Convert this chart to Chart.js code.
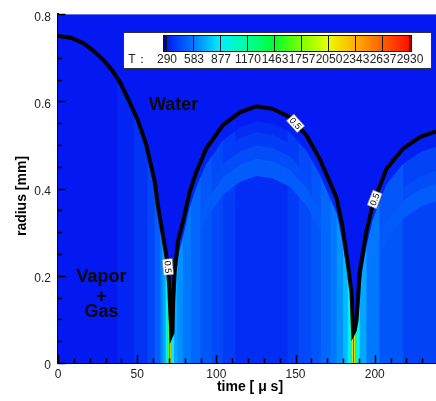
<!DOCTYPE html>
<html>
<head>
<meta charset="utf-8">
<script src="https://cdn.jsdelivr.net/npm/chart.js@4.4.0/dist/chart.umd.min.js"></script>
<style>
  html, body { margin: 0; padding: 0; background: #fff; }
  #wrap { width: 436px; height: 401px; }
</style>
</head>
<body>
<div id="wrap"><canvas id="bubbleChart" width="436" height="401"></canvas></div>
<script>
// Bubble wall (0.5 contour)
const timeUs = [0, 8, 15.8, 22, 28.4, 34, 39, 45, 50.3, 55.8, 58.7, 61.1, 63, 65, 67.2, 69.3, 70.3, 71.0, 71.6,
    72.3, 72.7, 73.7, 75.8, 79, 83.2, 87.4, 93.7, 104, 114.8, 125.3, 135.6, 146.4, 156.9, 165.4, 171, 176,
    179.5, 182.2, 184, 185.4, 186.4, 187.4, 188.5, 189.5, 190.6, 194.8, 198.8, 207.4, 217.7, 228.5, 238.7];
const radiusMm = [0.750, 0.746, 0.734, 0.717, 0.696, 0.672, 0.645, 0.600, 0.558, 0.500, 0.454, 0.416, 0.363, 0.320, 0.272, 0.226, 0.170, 0.110, 0.064,
    0.070, 0.140, 0.211, 0.280, 0.325, 0.393, 0.439, 0.492, 0.545, 0.575, 0.589, 0.583, 0.564, 0.522, 0.467, 0.420, 0.378,
    0.315, 0.250, 0.200, 0.159, 0.068, 0.075, 0.098, 0.150, 0.211, 0.302, 0.364, 0.445, 0.491, 0.518, 0.531];

// Temperature inside the bubble, vertical bands (start time, K)
const bandStart = [0, 37.5, 48, 56.5, 61, 64.5, 66, 68, 69.3, 69.9, 70.3, 70.9, 71.4, 71.9, 73.2, 75.5, 79, 84, 90, 97, 104, 112,
    145, 152, 160, 166, 172, 176, 180, 183, 184.8, 185.6, 186.2, 187, 187.6, 188.5, 190.5, 194.8, 203, 218];
const bandTemp = [290, 330, 375, 430, 500, 600, 700, 900, 1300, 2000, 2900, 2000, 1300, 900, 700, 640, 580, 530, 480, 440, 400, 355,
    400, 440, 480, 530, 580, 650, 750, 900, 1300, 2000, 2900, 2000, 1300, 900, 700, 580, 480, 420];

// Thermal layer under the wall after the first collapse (depth in mm, K)
const shellDepth = [0, 0.035, 0.06, 0.09, 0.12, 0.16];
const shellTemp = [295, 345, 400, 450, 495];
const shellWindows = [[75.5, 181.5], [190.5, 238.7]];

const tempLevels = [290, 583, 877, 1170, 1463, 1757, 2050, 2343, 2637, 2930];
const levelColors = ['#0418f2', '#0078ff', '#00f0ff', '#00ffa0', '#00ff30', '#80ff00', '#e8ff00', '#ffb000', '#ff6000', '#ff1000'];

const xTicks = [0, 50, 100, 150, 200];
const yTicks = [0, 0.2, 0.4, 0.6, 0.8];
const contourLevel = 0.5;
const labelTimes = [69.4, 150, 200];

const FONT = "'Liberation Sans', Arial, sans-serif";

function hexRgb(h) {
    return [parseInt(h.slice(1, 3), 16), parseInt(h.slice(3, 5), 16), parseInt(h.slice(5, 7), 16)];
}
const stopRgb = levelColors.map(hexRgb);

function tempColor(T) {
    if (T <= tempLevels[0]) return levelColors[0];
    for (let i = 1; i < tempLevels.length; i++) {
        if (T <= tempLevels[i]) {
            const f = (T - tempLevels[i - 1]) / (tempLevels[i] - tempLevels[i - 1]);
            const a = stopRgb[i - 1], b = stopRgb[i];
            return `rgb(${Math.round(a[0] + (b[0] - a[0]) * f)},${Math.round(a[1] + (b[1] - a[1]) * f)},${Math.round(a[2] + (b[2] - a[2]) * f)})`;
        }
    }
    return levelColors[levelColors.length - 1];
}

function radiusAt(t) {
    for (let i = 1; i < timeUs.length; i++) {
        if (t <= timeUs[i]) {
            const f = (t - timeUs[i - 1]) / (timeUs[i] - timeUs[i - 1]);
            return radiusMm[i - 1] + (radiusMm[i] - radiusMm[i - 1]) * f;
        }
    }
    return radiusMm[radiusMm.length - 1];
}

// Temperature field behind the curve
const heatPlugin = {
    id: 'heat',
    beforeDatasetsDraw(chart) {
        const { ctx, chartArea: a, scales: { x, y } } = chart;
        ctx.save();
        ctx.beginPath();
        ctx.rect(a.left, a.top, a.right - a.left, a.bottom - a.top);
        ctx.clip();
        ctx.fillStyle = tempColor(tempLevels[0]);
        ctx.fillRect(a.left, a.top, a.right - a.left, a.bottom - a.top);

        // clip to the bubble interior
        ctx.beginPath();
        ctx.moveTo(x.getPixelForValue(timeUs[0]), a.bottom);
        timeUs.forEach((t, i) => ctx.lineTo(x.getPixelForValue(t), y.getPixelForValue(radiusMm[i])));
        ctx.lineTo(x.getPixelForValue(timeUs[timeUs.length - 1]), a.bottom);
        ctx.closePath();
        ctx.clip();

        bandStart.forEach((t0, i) => {
            const t1 = i + 1 < bandStart.length ? bandStart[i + 1] : x.max;
            const x0 = x.getPixelForValue(t0), x1 = x.getPixelForValue(t1);
            ctx.fillStyle = tempColor(bandTemp[i]);
            ctx.fillRect(x0, a.top, x1 - x0 + 0.6, a.bottom - a.top);
        });

        shellWindows.forEach(([w0, w1]) => {
            ctx.save();
            const wx0 = x.getPixelForValue(w0), wx1 = x.getPixelForValue(w1);
            ctx.beginPath();
            ctx.rect(wx0, a.top, wx1 - wx0, a.bottom - a.top);
            ctx.clip();
            for (let s = 0; s < shellTemp.length; s++) {
                const d0 = shellDepth[s], d1 = shellDepth[s + 1];
                ctx.beginPath();
                timeUs.forEach((t, i) => {
                    const px = x.getPixelForValue(t), py = y.getPixelForValue(Math.max(0, radiusMm[i] - d0));
                    if (i === 0) ctx.moveTo(px, py); else ctx.lineTo(px, py);
                });
                for (let i = timeUs.length - 1; i >= 0; i--) {
                    ctx.lineTo(x.getPixelForValue(timeUs[i]), y.getPixelForValue(Math.max(0, radiusMm[i] - d1)));
                }
                ctx.closePath();
                ctx.globalCompositeOperation = s === 0 ? 'source-over' : 'lighten';
                ctx.globalAlpha = s === 0 ? 0.85 : 1;
                ctx.fillStyle = tempColor(shellTemp[s]);
                ctx.fill();
            }
            ctx.restore();
        });
        ctx.restore();
    }
};

// Labels, colour legend, inward ticks, axis titles
const overlayPlugin = {
    id: 'overlay',
    afterDraw(chart) {
        const { ctx, chartArea: a, scales: { x, y } } = chart;
        ctx.save();

        // contour labels on the wall line
        labelTimes.forEach(t => {
            const px = x.getPixelForValue(t), py = y.getPixelForValue(radiusAt(t));
            const ax = x.getPixelForValue(t - 0.8), ay = y.getPixelForValue(radiusAt(t - 0.8));
            const bx = x.getPixelForValue(t + 0.8), by = y.getPixelForValue(radiusAt(t + 0.8));
            let ang = Math.atan2(by - ay, bx - ax);
            if (ang > Math.PI / 2) ang -= Math.PI;
            if (ang < -Math.PI / 2) ang += Math.PI;
            ctx.save();
            ctx.translate(px, py);
            ctx.rotate(ang);
            ctx.fillStyle = '#fff';
            ctx.fillRect(-8, -5, 16, 10);
            ctx.strokeStyle = '#777';
            ctx.lineWidth = 0.6;
            ctx.strokeRect(-8, -5, 16, 10);
            ctx.fillStyle = '#000';
            ctx.font = `9px ${FONT}`;
            ctx.textAlign = 'center';
            ctx.textBaseline = 'middle';
            ctx.fillText(String(contourLevel), 0, 0.5);
            ctx.restore();
        });

        // region names
        ctx.fillStyle = '#0a0a0a';
        ctx.font = `bold 18px ${FONT}`;
        ctx.textAlign = 'center';
        ctx.textBaseline = 'middle';
        ctx.fillText('Water', x.getPixelForValue(73), y.getPixelForValue(0.591));
        ctx.fillText('Vapor', x.getPixelForValue(27.5), y.getPixelForValue(0.197));
        ctx.fillText('+', x.getPixelForValue(27.5), y.getPixelForValue(0.152));
        ctx.fillText('Gas', x.getPixelForValue(27.5), y.getPixelForValue(0.116));

        // colour legend
        ctx.fillStyle = '#fff';
        ctx.fillRect(123, 32, 309, 37);
        ctx.strokeStyle = '#333';
        ctx.lineWidth = 1;
        ctx.strokeRect(123.5, 32.5, 308, 36);
        const cbL = 166, cbR = 409, cbT = 35, cbB = 52;
        const seg = (cbR - cbL) / (tempLevels.length - 1);
        for (let i = 0; i < tempLevels.length - 1; i++) {
            const gx0 = cbL + i * seg;
            const g = ctx.createLinearGradient(gx0, 0, gx0 + seg, 0);
            g.addColorStop(0, levelColors[i]);
            g.addColorStop(1, levelColors[i + 1]);
            ctx.fillStyle = g;
            ctx.fillRect(gx0, cbT, seg, cbB - cbT);
        }
        ctx.fillStyle = '#0000a8';
        ctx.fillRect(cbL - 3, cbT, 3, cbB - cbT);
        ctx.fillStyle = '#b00000';
        ctx.fillRect(cbR, cbT, 3, cbB - cbT);
        ctx.strokeStyle = '#111';
        ctx.lineWidth = 1;
        for (let i = 0; i < tempLevels.length; i++) {
            const lx = Math.round(cbL + i * seg) + 0.5;
            ctx.beginPath();
            ctx.moveTo(lx, cbT);
            ctx.lineTo(lx, cbB);
            ctx.stroke();
        }
        ctx.strokeRect(cbL - 2.5, cbT + 0.5, cbR - cbL + 5, cbB - cbT - 1);
        ctx.fillStyle = '#222';
        ctx.font = `12px ${FONT}`;
        ctx.textBaseline = 'middle';
        ctx.fillText('T\uff1a', 138, 60);
        tempLevels.forEach((v, i) => ctx.fillText(String(v), cbL + i * seg + 1, 60));

        // inward ticks
        ctx.strokeStyle = '#000';
        ctx.lineWidth = 1.5;
        for (let v = 0; v <= x.max; v += 10) {
            const major = xTicks.includes(v);
            const px = Math.round(x.getPixelForValue(v)) + 0.5;
            ctx.beginPath();
            ctx.moveTo(px, a.bottom);
            ctx.lineTo(px, a.bottom - (major ? 8 : 4.5));
            ctx.stroke();
        }
        for (let k = 0; k <= 16; k++) {
            const major = k % 4 === 0;
            const py = Math.round(y.getPixelForValue(k * 0.05)) + 0.5;
            ctx.beginPath();
            ctx.moveTo(a.left, py);
            ctx.lineTo(a.left + (major ? 7.5 : 4), py);
            ctx.stroke();
        }

        // axis titles
        ctx.fillStyle = '#000';
        ctx.font = `bold 14px ${FONT}`;
        ctx.textAlign = 'center';
        ctx.textBaseline = 'middle';
        ctx.fillText('time [ \u03bc s]', 250, 387);
        ctx.save();
        ctx.translate(22.5, 196);
        ctx.rotate(-Math.PI / 2);
        ctx.fillText('radius [mm]', 0, 0);
        ctx.restore();

        ctx.restore();
    }
};

const tickFont = { family: FONT, size: 12 };

new Chart(document.getElementById('bubbleChart'), {
    type: 'line',
    data: {
        datasets: [{
            data: timeUs.map((t, i) => ({ x: t, y: radiusMm[i] })),
            borderColor: '#000',
            borderWidth: 4,
            pointRadius: 0,
            tension: 0,
            fill: false
        }]
    },
    options: {
        responsive: false,
        animation: false,
        events: [],
        layout: { padding: { top: 11, right: 0, left: 0, bottom: 0 } },
        plugins: { legend: { display: false }, tooltip: { enabled: false } },
        scales: {
            x: {
                type: 'linear',
                min: 0,
                max: 238.7,
                z: 1,
                afterBuildTicks: s => { s.ticks = xTicks.map(v => ({ value: v })); },
                afterFit: s => { s.height = 38; },
                grid: { display: false, drawTicks: false },
                border: { display: true, color: '#000', width: 2 },
                ticks: { padding: 4, color: '#222', font: tickFont, maxRotation: 0, autoSkip: false }
            },
            y: {
                type: 'linear',
                min: 0,
                max: 0.8,
                z: 1,
                afterBuildTicks: s => { s.ticks = yTicks.map(v => ({ value: v })); },
                afterFit: s => { s.width = 58; },
                grid: { display: false, drawTicks: false },
                border: { display: true, color: '#000', width: 2 },
                ticks: { padding: 7, labelOffset: 3, color: '#222', font: tickFont, autoSkip: false }
            }
        }
    },
    plugins: [heatPlugin, overlayPlugin]
});
</script>
</body>
</html>
